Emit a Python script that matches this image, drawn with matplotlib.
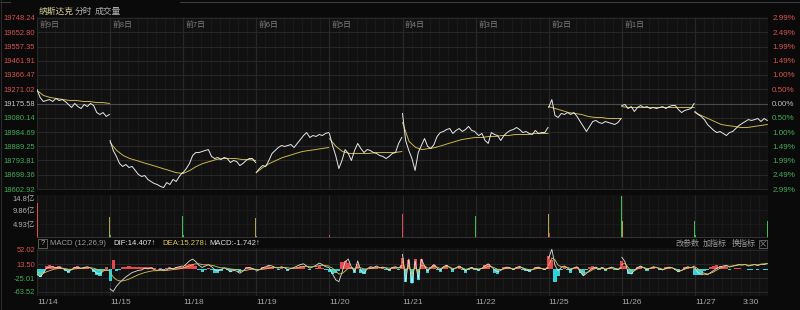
import numpy as np
import matplotlib
matplotlib.use('Agg')
import matplotlib.pyplot as plt
from matplotlib.patches import Rectangle
from matplotlib.lines import Line2D

plt.rcParams['font.family'] = ['Noto Sans CJK SC', 'DejaVu Sans']
NUMF = ['Liberation Sans', 'Noto Sans CJK SC', 'DejaVu Sans']

# ---------------- data ----------------
days = ['11/14', '11/15', '11/18', '11/19', '11/20', '11/21', '11/22', '11/25', '11/26', '11/27']
day_tags = ['前9日', '前8日', '前7日', '前6日', '前5日', '前4日', '前3日', '前2日', '前1日', '']
prev_close = 19175.58
price_ticks = [19748.24, 19652.80, 19557.35, 19461.91, 19366.47, 19271.02, 19175.58,
               19080.14, 18984.69, 18889.25, 18793.81, 18698.36, 18602.92]
pct_labels = ['2.99%', '2.49%', '1.99%', '1.49%', '1.00%', '0.50%', '0.00%',
              '0.50%', '1.00%', '1.49%', '1.99%', '2.49%', '2.99%']

price = [
    [19269, 19216, 19189, 19196, 19202, 19189, 19209, 19196, 19202, 19189, 19169, 19149,
     19176, 19155, 19142, 19169, 19155, 19176, 19162, 19115, 19102, 19115, 19089, 19102],
    [18928, 18861, 18821, 18774, 18754, 18767, 18747, 18754, 18727, 18700, 18687, 18693,
     18667, 18653, 18640, 18633, 18620, 18613, 18646, 18633, 18667, 18653, 18687, 18713],
    [18713, 18740, 18774, 18827, 18847, 18847, 18854, 18861, 18867, 18821, 18807, 18814,
     18800, 18814, 18807, 18780, 18794, 18787, 18760, 18774, 18794, 18807, 18807, 18780],
    [18713, 18740, 18760, 18754, 18794, 18841, 18861, 18881, 18894, 18888, 18894, 18901,
     18881, 18908, 18934, 18961, 18981, 18948, 18961, 18955, 18968, 18961, 18975, 18981],
    [18975, 18894, 18827, 18740, 18794, 18867, 18841, 18794, 18861, 18908, 18874, 18847,
     18867, 18861, 18847, 18841, 18827, 18821, 18807, 18821, 18841, 18847, 18908, 18948],
    [19109, 18928, 18861, 18807, 18727, 18847, 18894, 18941, 18888, 18874, 18901, 18955,
     18981, 18988, 19001, 19008, 18975, 18995, 19008, 18988, 19001, 19022, 18995, 18988],
    [18981, 18961, 18975, 18928, 18908, 18981, 18968, 18961, 18928, 18961, 18981, 18995,
     19001, 19015, 19001, 18981, 18988, 18975, 18968, 18995, 18975, 18981, 18981, 19015],
    [19149, 19202, 19095, 19082, 19109, 19102, 19115, 19102, 19115, 19089, 19055, 19022,
     18988, 19022, 19055, 19062, 19048, 19042, 19055, 19048, 19042, 19035, 19048, 19075],
    [19162, 19169, 19142, 19155, 19122, 19149, 19162, 19149, 19155, 19142, 19149, 19142,
     19149, 19155, 19142, 19155, 19162, 19162, 19135, 19115, 19129, 19135, 19142, 19176],
    [19122, 19102, 19089, 19068, 19035, 19015, 18995, 18981, 18988, 18975, 18961, 18981,
     18988, 19008, 19028, 19042, 19055, 19068, 19062, 19068, 19075, 19055, 19075, 19062],
]

avg_price = [
    [19263, 19229, 19216, 19209, 19202, 19196, 19196, 19189, 19189, 19182, 19182, 19176],
    [18914, 18861, 18827, 18807, 18794, 18780, 18767, 18754, 18740, 18727, 18713, 18707],
    [18707, 18727, 18754, 18774, 18787, 18800, 18807, 18807, 18807, 18800, 18800, 18794],
    [18713, 18747, 18774, 18794, 18814, 18827, 18841, 18854, 18861, 18867, 18874, 18881],
    [18941, 18888, 18854, 18841, 18841, 18841, 18841, 18847, 18847, 18847, 18847, 18854],
    [19048, 18921, 18881, 18867, 18874, 18881, 18894, 18908, 18921, 18934, 18941, 18948],
    [18948, 18948, 18955, 18955, 18961, 18961, 18968, 18968, 18968, 18975, 18975, 18975],
    [19155, 19142, 19129, 19115, 19109, 19102, 19089, 19082, 19082, 19075, 19075, 19075],
    [19155, 19149, 19149, 19149, 19149, 19149, 19149, 19149, 19149, 19149, 19149, 19149],
    [19115, 19095, 19075, 19055, 19035, 19028, 19022, 19015, 19015, 19022, 19028, 19035],
]

# volume (亿): opening and closing prints of each session
vol_ticks = [14.8, 9.86, 4.93]
vol_tick_labels = ['14.8亿', '9.86亿', '4.93亿']
vol_open = [12.3, 1.2, 1.0, 0.8, 1.1, 1.5, 0.9, 1.6, 5.8, 1.0]
vol_open_dir = ['up', 'down', 'down', 'down', 'up', 'up', 'down', 'up', 'flat', 'down']
vol_close = [7.2, 7.9, 6.9, 6.5, 8.3, 7.6, 8.3, 14.8, 6.1, 5.8]
vol_close_dir = ['flat', 'down', 'flat', 'flat', 'up', 'down', 'flat', 'down', 'down', 'down']

# MACD (12,26,9)
macd_ticks = [52.02, 13.50, -25.01, -63.52]
dif = [
    [-15, -22, -12, 2, 5, 6, 3, 5, 2, -3, -8, -2, 4, 5, 2, 4, 6, 3, -4, -12, -14, -6, -2, -4],
    [-55, -62, -48, -38, -30, -22, -16, -10, -7, -4, -3, 2, 0, 3, -2, -4, -1, -5, -2, 2, 0, 4, 6, 8],
    [6, 14, 22, 27, 20, 10, 4, 8, 12, 6, -2, -6, -2, 3, -1, -8, -4, -6, -12, -6, 2, 4, 1, -3],
    [-6, -2, 3, 6, 10, 8, 4, 2, 6, 3, -2, 1, 4, 8, 12, 14, 8, 2, 6, 10, 16, 12, 6, 4],
    [2, -14, -30, -35, -10, 20, 27, 5, -8, 22, -5, -12, 0, 6, 4, 8, 3, 5, 2, -3, 4, 6, 2, 10],
    [40, -35, 27, -40, 22, -27, 27, 8, -6, 4, 12, 2, -4, 6, 10, 4, -2, 3, 8, 2, -5, 1, 4, 0],
    [0, -3, 2, 8, 14, 6, -2, -8, -4, 2, 5, 3, -2, 4, 7, 2, -3, -6, -2, 3, 5, 1, -2, 4],
    [30, 54, 10, -5, 4, 8, 2, -4, 3, 6, -8, -19, -12, -4, 2, 5, 0, 4, -3, 2, 5, 1, -2, 3],
    [32, 20, -10, -14, -4, 4, 8, 3, -2, 2, 6, 4, 0, -3, 2, 5, 3, -2, -8, -4, 2, 6, 3, 8],
    [2, -10, -16, -14, -16, -10, -4, 2, 6, 8, 10, 5, 8, 10, 12, 11, 12, 8, 10, 12, 9, 13, 12, 14.407],
]
dea = [
    [-8, -12, -12, -8, -5, -2, 0, 1, 2, 1, -1, -1, 0, 1, 1, 2, 3, 3, 2, -1, -4, -5, -4, -4],
    [-10, -22, -30, -33, -33, -31, -28, -24, -20, -16, -13, -10, -8, -6, -5, -5, -4, -4, -4, -3, -2, -1, 0, 2],
    [3, 5, 8, 12, 14, 14, 12, 11, 11, 10, 8, 5, 3, 3, 2, 0, -1, -2, -4, -5, -4, -2, -1, -1],
    [-2, -2, -1, 0, 2, 4, 4, 4, 4, 4, 3, 2, 2, 3, 5, 7, 7, 6, 6, 7, 9, 10, 9, 8],
    [6, 2, -6, -14, -13, -6, 2, 3, 1, 5, 3, 0, 0, 1, 2, 3, 3, 3, 3, 2, 2, 3, 3, 4],
    [20, -5, 10, -15, 5, -10, 10, 9, 2, 3, 7, 5, 1, 4, 7, 5, 1, 2, 5, 3, -1, 0, 2, 1],
    [1, 0, 1, 3, 7, 6, 3, -1, -2, 0, 2, 2, 0, 2, 4, 3, 0, -2, -2, 0, 2, 1, 0, 2],
    [10, 30, 25, 10, 6, 6, 4, 1, 2, 4, -2, -10, -11, -7, -2, 2, 1, 2, 0, 1, 3, 2, 0, 1],
    [12, 16, 4, -6, -5, 0, 4, 4, 1, 1, 4, 4, 2, -1, 0, 3, 3, 0, -4, -4, -1, 3, 3, 5],
    [6, 0, -8, -12, -14, -12, -8, -3, 2, 5, 8, 7, 8, 9, 11, 11, 12, 10, 11, 12, 11, 13, 14, 15.278],
]
macd_bar = [
    [-18, -22, -10, 8, 10, 9, 5, 7, 2, -6, -12, -4, 6, 8, 3, 4, 6, 0, -8, -18, -20, -4, 4, 0],
    [-32, 24, -6, -4, 4, 6, 8, 6, 5, 4, 4, 6, 4, 5, 2, 0, 3, -2, 2, 5, 3, 5, 6, 6],
    [4, 10, 14, 13, 8, -4, -8, -3, 2, -4, -10, -11, -5, 0, -3, -8, -3, -4, -8, -1, 6, 6, 2, -2],
    [-4, 0, 4, 6, 8, 4, 0, -2, 2, -1, -5, -1, 2, 5, 7, 7, 1, -4, 0, 3, 7, 2, -3, -4],
    [-8, -14, -12, -6, 20, 22, 16, 4, -10, 14, -10, -14, 0, 6, 4, 6, 0, 4, -2, -6, 4, 6, -2, 10],
    [30, -36, 24, -38, 26, -30, 26, 8, -10, 4, 12, -2, -8, 6, 10, 0, -8, 0, 8, -4, -10, -2, 4, -4],
    [-2, -6, 2, 10, 14, 0, -10, -14, -4, 4, 6, 2, -4, 4, 6, -2, -6, -8, 0, 6, 6, 0, -4, 4],
    [35, 24, -35, -20, -4, 4, -4, -10, 2, 6, -12, -18, -2, 6, 8, 6, -2, 4, -6, 2, 4, -2, -4, 4],
    [22, 8, -14, -14, -4, 6, 8, 0, -6, 2, 6, 0, -4, -4, 4, 4, 0, -4, -8, 0, 6, 6, 0, 6],
    [-16, -16, -14, -6, -4, 4, 8, 10, 8, 6, 4, -4, 0, 2, 2, 0, 0, -4, -2, 0, -4, 0, -4, -1.742],
]

# ---------------- layout ----------------
W, H = 800, 310
BG = '#0a0a0a'
PANEL = '#111111'
GRID = '#272727'
MINOR = '#1b1b1b'
RED = '#e5484d'
GREEN = '#3cbf55'
UP_TXT = '#d9534f'
DN_TXT = '#3fae58'

fig = plt.figure(figsize=(W / 100, H / 100), dpi=100, facecolor=BG)


def box(x0, y0, x1, y1):
    return [x0 / W, 1 - y1 / H, (x1 - x0) / W, (y1 - y0) / H]


ax = fig.add_axes(box(37, 17, 768, 190))
axv = fig.add_axes(box(37, 195, 768, 238))
axm = fig.add_axes(box(37, 248, 768, 296))

nd = len(days)
for a in (ax, axv, axm):
    a.set_facecolor(PANEL)
    a.set_xlim(0, nd)
    for s in a.spines.values():
        s.set_visible(False)
    a.set_xticks([])
    minor_x = [k + j / 8 for k in range(nd) for j in range(1, 8)]
    a.vlines(minor_x, 0, 1, transform=a.get_xaxis_transform(), color=MINOR, lw=0.6, zorder=0)
    a.vlines(range(nd + 1), 0, 1, transform=a.get_xaxis_transform(), color=GRID, lw=0.9, zorder=0)

# ---- price panel ----
step = price_ticks[0] - price_ticks[1]
ax.set_ylim(price_ticks[-1] - step / 14.25, price_ticks[0] + step / 14.25)
for t in price_ticks:
    ax.axhline(t, color='#4a4a4a' if t == prev_close else GRID, lw=0.8, zorder=0)

for k in range(nd):
    xs = np.linspace(k, k + 0.99, len(price[k]))
    ax.plot(xs, price[k], color='#e8e8e8', lw=0.7, zorder=3)
    xa = np.linspace(k, k + 0.99, len(avg_price[k]))
    ax.plot(xa, avg_price[k], color='#c9b64a', lw=0.7, zorder=2)
    if day_tags[k]:
        ax.text(k + 0.035, price_ticks[0] - step * 0.5, day_tags[k], color='#7e7e7e',
                fontsize=5.6, va='center', ha='left')


def label_colors(vals, ref):
    return [UP_TXT if v > ref else (DN_TXT if v < ref else '#c8c8c8') for v in vals]


LBL = 5.4
ax.set_yticks(price_ticks)
ax.set_yticklabels([f'{t:.2f}' for t in price_ticks])
ax.tick_params(axis='y', length=0, pad=1.5, labelsize=LBL)
for lab, c in zip(ax.get_yticklabels(), label_colors(price_ticks, prev_close)):
    lab.set_color(c)
    lab.set_fontfamily(NUMF)

ax2 = ax.twinx()
ax2.set_ylim(ax.get_ylim())
for s in ax2.spines.values():
    s.set_visible(False)
ax2.set_yticks(price_ticks)
ax2.set_yticklabels(pct_labels)
ax2.tick_params(axis='y', length=0, pad=3, labelsize=5.8)
for lab, c in zip(ax2.get_yticklabels(), label_colors(price_ticks, prev_close)):
    lab.set_color(c if c != '#c8c8c8' else '#b8b8b8')
    lab.set_fontfamily(NUMF)

# ---- volume panel ----
dir_color = {'up': RED, 'down': GREEN, 'flat': '#b3a34a'}
axv.set_ylim(0, 15.1)
for t in vol_ticks[1:]:
    axv.axhline(t, color=MINOR, lw=0.6, zorder=0)
axv.bar([k + 0.006 for k in range(nd)], vol_open, width=0.012,
        color=[dir_color[d] for d in vol_open_dir], zorder=3)
axv.bar([k + 0.994 for k in range(nd)], vol_close, width=0.012,
        color=[dir_color[d] for d in vol_close_dir], zorder=3)
axv.axhline(0, color='#3a3a3a', lw=1.2, zorder=4)
axv.set_yticks(vol_ticks)
axv.set_yticklabels(vol_tick_labels)
axv.tick_params(axis='y', length=0, pad=1.5, labelsize=LBL, labelcolor='#b0b0b0')
for lab in axv.get_yticklabels():
    lab.set_fontfamily(NUMF)
axv.get_yticklabels()[0].set_va('top')

# ---- MACD panel ----
mstep = (macd_ticks[0] - macd_ticks[-1]) / 42
axm.set_ylim(macd_ticks[-1] - 4 * mstep, macd_ticks[0] + 2 * mstep)
for t in macd_ticks:
    axm.axhline(t, color=GRID, lw=0.7, zorder=0)
for k in range(nd):
    xs = np.linspace(k, k + 0.99, len(dif[k]))
    bars = macd_bar[k]
    axm.bar(xs, bars, width=0.043, color=[RED if b > 0 else '#2ed3d9' for b in bars],
            lw=0, zorder=2)
    axm.plot(xs, dif[k], color='#e0e0e0', lw=0.6, zorder=3)
    axm.plot(xs, dea[k], color='#d8c24e', lw=0.6, zorder=3)
axm.set_yticks(macd_ticks)
axm.set_yticklabels([f'{t:.2f}' for t in macd_ticks])
axm.tick_params(axis='y', length=0, pad=1.5, labelsize=LBL)
for lab, t in zip(axm.get_yticklabels(), macd_ticks):
    lab.set_color(UP_TXT if t > 0 else DN_TXT)
    lab.set_fontfamily(NUMF)

# ---- header texts ----
fig.text(39 / W, 1 - 11 / H, '纳斯达克', color='#d8cf94', fontsize=6.3, va='center')
fig.text(75 / W, 1 - 11 / H, '分时', color='#b0b0b0', fontsize=6.3, va='center')
fig.text(95 / W, 1 - 11 / H, '成交量', color='#b0b0b0', fontsize=6.3, va='center')
fig.add_artist(Line2D([0, 10 / W], [1 - 1.5 / H] * 2, color='#3c3c3c', lw=0.8))
fig.add_artist(Line2D([180 / W, 1], [1 - 1.5 / H] * 2, color='#3c3c3c', lw=0.8))
fig.add_artist(Line2D([0.5 / W] * 2, [0, 1], color='#2a2a2a', lw=0.8))

# MACD header strip
fig.add_artist(Rectangle((38 / W, 1 - 248 / H), 9 / W, 9 / H, fill=False,
                         ec='#6a6a6a', lw=0.6))
hy = 1 - 243.5 / H
fig.text(42.5 / W, hy, '?', color='#b0b0b0', fontsize=5.5, ha='center', va='center',
         family=NUMF)
fig.text(50 / W, hy, 'MACD (12,26,9)', color='#9a9a9a', fontsize=5.6, va='center', family=NUMF)
fig.text(113 / W, hy, f'DIF:{dif[-1][-1]:.3f}↑', color='#e6e6e6', fontsize=5.6, va='center',
         family=NUMF)
fig.text(162 / W, hy, f'DEA:{dea[-1][-1]:.3f}↓', color='#e0c84a', fontsize=5.6, va='center',
         family=NUMF)
fig.text(209 / W, hy, f'MACD:{macd_bar[-1][-1]:.3f}↑', color='#dcdcdc', fontsize=5.6,
         va='center', family=NUMF)
for x0, s in [(675, '改参数'), (703, '加指标'), (732, '换指标')]:
    fig.text(x0 / W, hy, s, color='#9a9a9a', fontsize=5.8, va='center')
fig.add_artist(Rectangle((759 / W, 1 - 247.5 / H), 8 / W, 8 / H, fill=False,
                         ec='#6a6a6a', lw=0.6))
fig.text(763 / W, hy, '×', color='#9a9a9a', fontsize=6, ha='center', va='center')

# date axis
for k, d in enumerate(days):
    fig.text((37 + k * 73.1) / W, 1 - 302 / H, d, color='#a6a6a6', fontsize=6,
             ha='left', va='center', family=NUMF)
fig.text(751 / W, 1 - 302 / H, '3:30', color='#a6a6a6', fontsize=6, ha='center',
         va='center', family=NUMF)

fig.savefig('out.png', dpi=100, facecolor=BG)
